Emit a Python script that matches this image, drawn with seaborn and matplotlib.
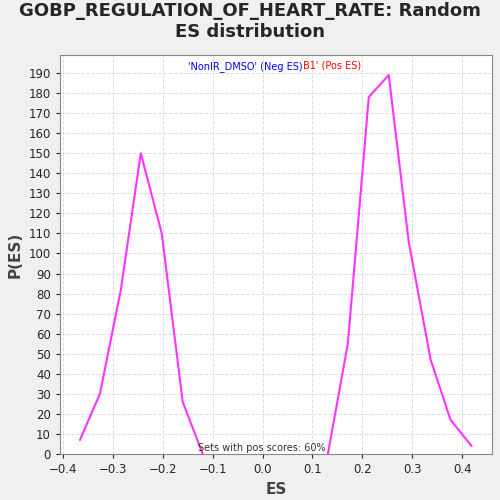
import matplotlib
matplotlib.use("Agg")
import matplotlib.pyplot as plt
import seaborn as sns
import pandas as pd
import numpy as np

neg_es = [-0.366, -0.326, -0.284, -0.244, -0.202, -0.160, -0.120]
neg_p = [7, 30, 82, 150, 110, 26, 0]
pos_es = [0.131, 0.171, 0.213, 0.253, 0.293, 0.337, 0.377, 0.419]
pos_p = [0, 55, 178, 189, 106, 47, 17, 4]

sns.set_style("white")
fig = plt.figure(figsize=(5, 5), dpi=100, facecolor="#f0f0f0")
ax = fig.add_axes([0.12, 0.092, 0.864, 0.798])
ax.set_facecolor("white")
for es, p in [(neg_es, neg_p), (pos_es, pos_p)]:
    df = pd.DataFrame({"ES": es, "P": p})
    sns.lineplot(data=df, x="ES", y="P", ax=ax, color="#ff33ff", lw=1.5)
ax.set_xlim(-0.406, 0.46)
ax.set_ylim(0, 199)
ax.set_xticks(np.round(np.arange(-0.4, 0.41, 0.1), 1))
ax.set_yticks(range(0, 191, 10))
ax.tick_params(labelsize=8.5, length=3, left=True, bottom=True)
ax.grid(True, color="#dddddd", ls="--", lw=0.7)
for s in ax.spines.values():
    s.set_color("#888888")
ax.set_xlabel("ES", fontsize=11, fontweight="bold", color="#444444")
ax.set_ylabel("P(ES)", fontsize=11, fontweight="bold", color="#444444")
fig.suptitle("GOBP_REGULATION_OF_HEART_RATE: Random\nES distribution", fontsize=13, fontweight="bold", y=0.995)
ax.text(0.5625, 0.985, "'NonIR_DMSO' (Neg ES)", transform=ax.transAxes, ha="right", va="top", color="blue", fontsize=7)
ax.text(0.5625, 0.985, "B1' (Pos ES)", transform=ax.transAxes, ha="left", va="top", color="red", fontsize=7)
ax.text(0.468, 0.003, "Sets with pos scores: 60%", transform=ax.transAxes, ha="center", va="bottom", color="#333333", fontsize=7)
fig.savefig("out.png", dpi=100, facecolor=fig.get_facecolor())
